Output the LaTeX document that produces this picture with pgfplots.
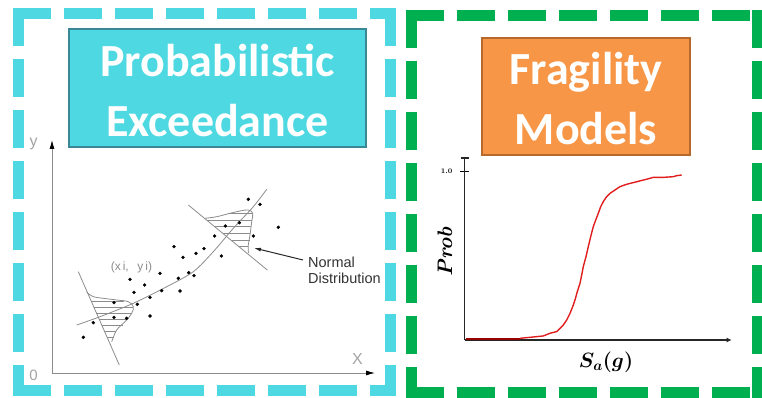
\documentclass[border=0pt]{standalone}
\usepackage{pgfplots}
\pgfplotsset{compat=1.18}
\usetikzlibrary{arrows.meta}
\usepackage{fontspec}
\usepackage{bm}
\newfontfamily\titlefont{Carlito}
\newfontfamily\sansfont{Liberation Sans}
\definecolor{cyanframe}{RGB}{78,217,226}
\definecolor{cyanedge}{RGB}{58,135,150}
\definecolor{greenframe}{RGB}{0,176,80}
\definecolor{orangebox}{RGB}{247,150,70}
\definecolor{orangeedge}{RGB}{183,105,44}
\definecolor{sketch}{RGB}{140,140,140}
\definecolor{curvered}{RGB}{225,30,30}

\begin{document}
\begin{tikzpicture}[x=1pt,y=1pt]
\useasboundingbox (0,0) rectangle (762,398);

% dashed frames
\begin{scope}[line width=11pt, dash pattern=on 38pt off 13pt]
  \draw[cyanframe] (12.5,384) -- (395.5,384);
  \draw[cyanframe] (18,389.5) -- (18,1.5);
  \draw[cyanframe] (390,389.5) -- (390,1.5);
  \draw[cyanframe] (12.5,7) -- (395.5,7);
  \draw[greenframe] (405.5,382) -- (762.5,382);
  \draw[greenframe] (411,387.5) -- (411,-0.5);
  \draw[greenframe] (757,387.5) -- (757,-0.5);
  \draw[greenframe] (405.5,5) -- (762.5,5);
\end{scope}

% title boxes
\draw[cyanedge, fill=cyanframe, line width=1.5pt] (69,251) rectangle (366,369);
\node[anchor=base, text=white, font=\titlefont\bfseries\fontsize{46}{56}\selectfont] at (217.5,321) {Probabilistic};
\node[anchor=base, text=white, font=\titlefont\bfseries\fontsize{46}{56}\selectfont] at (217.5,261) {Exceedance};
\draw[orangeedge, fill=orangebox, line width=1.5pt] (482,243) rectangle (690,360);
\node[anchor=base, text=white, font=\titlefont\bfseries\fontsize{46}{56}\selectfont] at (586,313) {Fragility};
\node[anchor=base, text=white, font=\titlefont\bfseries\fontsize{46}{56}\selectfont] at (586,253) {Models};

% left sketch: scatter with regression and normal distributions
\begin{axis}[
  at={(52pt,25pt)}, anchor=south west,
  scale only axis, width=323pt, height=233pt,
  xmin=0, xmax=323, ymin=0, ymax=233,
  axis lines*=left, ticks=none, clip=false,
  axis line style={sketch, line width=0.8pt, -{Latex[length=9pt,width=5pt,color=black]}},
  unbounded coords=jump,
]
\addplot[only marks, mark=*, mark size=1.5pt, black] coordinates {
  (31.3,35.7) (41.3,50.3) (62,70.3) (62,55.7) (74.7,54.7) (78,93.7)
  (82,80.7) (85.3,68.7) (92.7,88) (98,75.7) (98,57) (108,99.7)
  (109.7,82.3) (122,126.3) (126.3,94.7) (128,82) (131,115.7) (136.7,100.3)
  (142,97.3) (144,119.7) (152,124.3) (162.7,137) (169.3,117) (173.3,147)
  (187.3,150.3) (196.3,173.7) (201.3,137) (208,168.7) (226.3,145.7)};
% regression curve
\addplot[sketch, line width=0.8pt, smooth] coordinates {
  (24.7,48) (48,56.3) (81.3,69.7) (114.7,86.3) (141.3,101.3)
  (161.3,121.3) (181.3,144.7) (201.3,166.3) (214.7,183.7)};
% lower distribution
\addplot[sketch, line width=0.8pt] coordinates {(26.3,101.3) (67.3,8)};
\addplot[sketch, line width=0.8pt, smooth, tension=0.6] coordinates {
  (34.7,80.7) (41.3,76.3) (51.3,74.7) (64.7,73) (76.3,71.3) (81.3,66.3)
  (79.7,59.7) (73,51.3) (64.7,43) (59.7,31.3)};
\addplot[sketch, line width=0.6pt] coordinates {
  (39.2,72) (71.5,72) (nan,nan)
  (41.8,66) (81.2,66) (nan,nan)
  (44.4,60) (79.7,60) (nan,nan)
  (47.1,54) (75.2,54) (nan,nan)
  (49.7,48) (70.5,48) (nan,nan)
  (52.4,42) (64.3,42) (nan,nan)
  (55.0,36) (61.7,36)};
% upper distribution
\addplot[sketch, line width=0.8pt] coordinates {(136.3,168) (215.3,103)};
\addplot[sketch, line width=0.8pt, smooth, tension=0.6] coordinates {
  (153,154.7) (164.7,156.3) (178,159.7) (188,162) (196.3,163) (200.7,159.7)
  (199.7,151.3) (198,138) (196.3,128) (196.3,121.3) (197,119.7)};
\addplot[sketch, line width=0.6pt] coordinates {
  (176,159.5) (200.6,159.5) (nan,nan)
  (154.5,153) (199.9,153) (nan,nan)
  (162.7,146.3) (199.1,146.3) (nan,nan)
  (170.7,139.7) (198.3,139.7) (nan,nan)
  (178.8,133) (197.7,133) (nan,nan)
  (186.9,126.3) (196.3,126.3)};
\end{axis}

\node[text=sketch!80, font=\sansfont\fontsize{16}{16}\selectfont] at (33.5,254) {y};
\node[text=sketch!80, font=\sansfont\fontsize{15}{15}\selectfont] at (33.5,22.5) {0};
\node[text=sketch!80, font=\sansfont\fontsize{16}{16}\selectfont] at (357.5,39) {X};
\node[text=sketch, font=\sansfont\fontsize{12}{12}\selectfont] at (131.5,130.5) {(x\,i,\;\, y\,i)};
\node[anchor=base west, inner sep=0pt, text=black!80, font=\sansfont\fontsize{14.5}{14.5}\selectfont] at (308,130) {Normal};
\node[anchor=base west, inner sep=0pt, text=black!80, font=\sansfont\fontsize{14.5}{14.5}\selectfont] at (308,114) {Distribution};
\draw[black!85, line width=1pt, -{Latex[length=7pt,width=4pt]}] (303,138) -- (254,150);

% right sketch: fragility curve
\begin{axis}[
  at={(464.5pt,58pt)}, anchor=south west,
  scale only axis, width=267.2pt, height=183pt,
  xmin=0, xmax=2.672, ymin=0, ymax=1.087,
  axis lines*=left, clip=false,
  axis line style={black!85, line width=1.8pt},
  x axis line style={-{Latex[length=5pt,width=5pt]}},
  y axis line style={-{Bar[width=8pt]}},
  xtick=\empty, ytick={1}, yticklabels={\textbf{1.0}},
  yticklabel style={font=\fontsize{7}{7}\selectfont, xshift=-4pt},
  tick align=center, major tick length=9pt,
  tick style={black, line width=1.3pt},
]
\addplot[red!60!black, line width=1.8pt] coordinates {(0.015,0.008) (0.555,0.008)};
\addplot[curvered, line width=1.4pt] coordinates {
  (0.555,0.010) (0.722,0.020) (0.788,0.024) (0.855,0.040) (0.922,0.050)
  (0.955,0.069) (0.988,0.089) (1.022,0.119) (1.055,0.158) (1.082,0.198)
  (1.105,0.238) (1.128,0.287) (1.155,0.337) (1.172,0.386) (1.188,0.436)
  (1.215,0.495) (1.238,0.555) (1.262,0.614) (1.288,0.674) (1.315,0.717)
  (1.338,0.753) (1.362,0.792) (1.388,0.822) (1.422,0.852) (1.455,0.871)
  (1.505,0.891) (1.555,0.911) (1.622,0.925) (1.688,0.935) (1.755,0.945)
  (1.822,0.955) (1.888,0.966) (1.988,0.966) (2.088,0.970) (2.122,0.976)
  (2.172,0.980)};
\end{axis}

\node[rotate=90, font=\bfseries\itshape\fontsize{21}{21}\selectfont] at (445,146.3) {Prob};
\node[font=\fontsize{20}{20}\selectfont] at (606,36) {$\bm{S_a(g)}$};
\end{tikzpicture}
\end{document}
